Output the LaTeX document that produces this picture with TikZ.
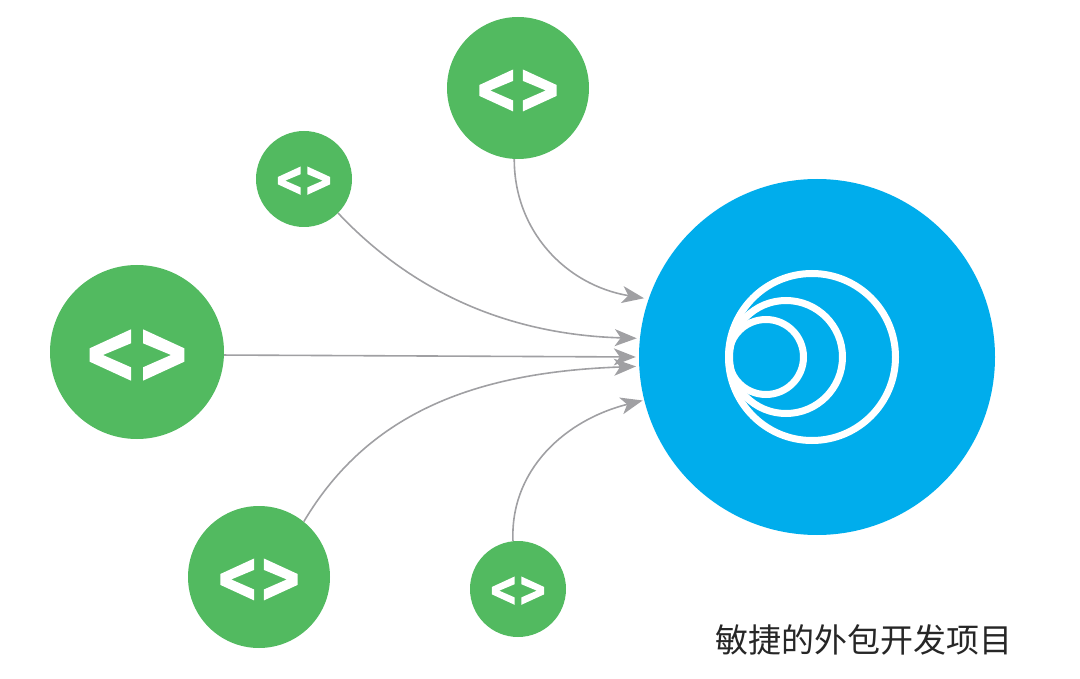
\documentclass[tikz,border=0pt]{standalone}
\usepackage{fontspec}
\newfontfamily\cjk{Noto Sans CJK SC}
\usetikzlibrary{arrows.meta}
\definecolor{codegreen}{HTML}{52BA60}
\definecolor{hubblue}{HTML}{00ADEC}
\definecolor{linkgray}{HTML}{A0A0A3}
\tikzset{
  srcnode/.style={circle,fill=codegreen,inner sep=0pt,minimum size=#1},
  hubnode/.style={circle,fill=hubblue,inner sep=0pt,minimum size=356pt},
  ring/.style={draw=white,line width=7pt,fill=none},
  link/.style={draw=linkgray,line width=1.6pt,shorten >=3pt,
    -{Stealth[length=22pt,width=17pt,inset=6pt,color=linkgray]}},
  caption/.style={font=\cjk\fontsize{33}{36}\selectfont,text=black!85,inner sep=0pt}
}
\newcommand{\codeicon}[2]{%
  \begin{scope}[shift={(#1.center)},scale=#2]
    \fill[white] (-6,-22.7) -- (-6,-8.7) -- (-34,3) -- (-6,15.3) -- (-6,28.7)
      -- (-47.3,9.7) -- (-47.3,-3.7) -- cycle;
    \fill[white] (6,-22.7) -- (6,-8.7) -- (34,3) -- (6,15.3) -- (6,28.7)
      -- (47.3,9.7) -- (47.3,-3.7) -- cycle;
  \end{scope}}
\begin{document}
\begin{tikzpicture}[x=1pt,y=-1pt]
\useasboundingbox (0,0) rectangle (1080,679);
\node[hubnode] (hub) at (817,357) {};
\node[srcnode=142pt] (top) at (518,88) {};
\node[srcnode=96pt] (tl) at (304,179) {};
\node[srcnode=174pt] (left) at (137,352) {};
\node[srcnode=142pt] (bl) at (259,577) {};
\node[srcnode=96pt] (bot) at (518,589) {};
\codeicon{top}{0.816}
\codeicon{tl}{0.552}
\codeicon{left}{1}
\codeicon{bl}{0.816}
\codeicon{bot}{0.552}
\node[circle,ring,inner sep=0pt,minimum size=167pt] (r1) at (812,357) {};
\node[circle,ring,inner sep=0pt,minimum size=113pt] (r2) at (786,357) {};
\node[circle,ring,inner sep=0pt,minimum size=75pt] (r3) at (766,357) {};
\draw[link,shorten >=4.5pt] (top.-93) .. controls (514,230) and (565,285) .. (hub.161);
\draw[link] (tl.-45) .. controls (420,300) and (520,335) .. (hub.174.5);
\draw[link] (left.-2.6) -- (hub.180.3);
\draw[link] (bl.51) .. controls (370,410) and (480,372) .. (hub.183.5);
\draw[link,shorten >=1.5pt] (bot.96) .. controls (510,470) and (565,420) .. (hub.194.5);
\node[caption,anchor=west] (cap) at (715,640) {敏捷的外包开发项目};
\end{tikzpicture}
\end{document}
